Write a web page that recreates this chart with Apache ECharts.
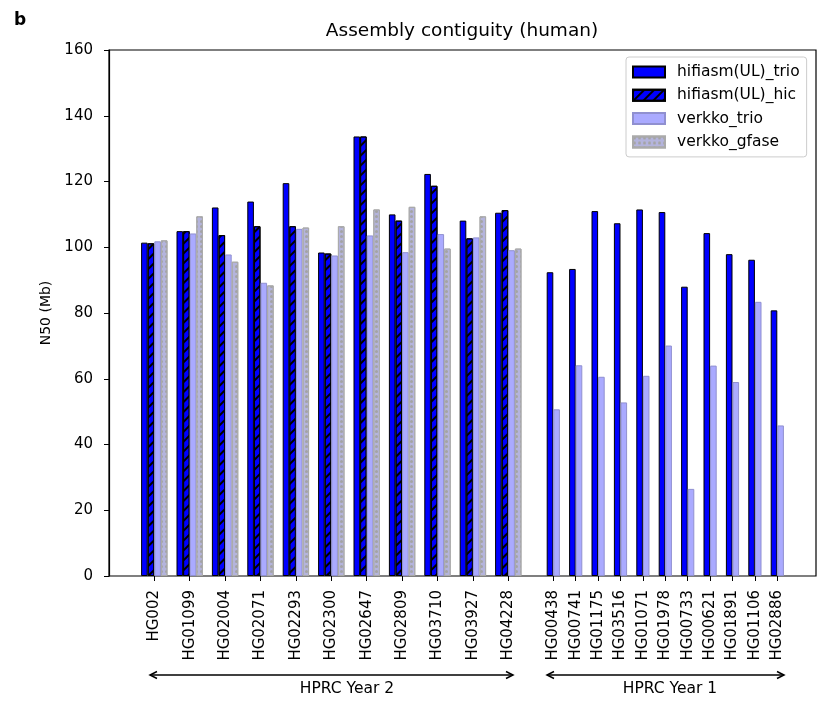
<!DOCTYPE html>
<html>
<head>
  <meta charset="utf-8">
  <title>Assembly contiguity (human)</title>
  <script src="https://cdn.jsdelivr.net/npm/echarts@6/dist/echarts.min.js"></script>
  <style>
    html, body { margin: 0; padding: 0; background: #fff; }
    #main { width: 830px; height: 712px; }
  </style>
</head>
<body>
  <div id="main"></div>
  <script>
    // samples, HPRC year 2 (four assemblers each)
    var year2Samples = ['HG002', 'HG01099', 'HG02004', 'HG02071', 'HG02293', 'HG02300',
                        'HG02647', 'HG02809', 'HG03710', 'HG03927', 'HG04228'];
    var y2HifiTrio   = [101.4, 104.9, 112.1, 113.9, 119.5, 98.4, 133.7, 110.0, 122.3, 108.1, 110.5];
    var y2HifiHic    = [101.2, 104.9, 103.7, 106.4, 106.4, 98.1, 133.7, 108.1, 118.7, 102.7, 111.3];
    var y2VerkkoTrio = [101.8, 104.2,  97.8,  89.2, 105.6, 97.5, 103.6,  98.5, 104.0, 103.0,  99.1];
    var y2VerkkoGfase= [102.1, 109.4,  95.6,  88.4, 106.0, 106.4, 111.5, 112.3,  99.6, 109.4,  99.6];

    // samples, HPRC year 1 (trio only)
    var year1Samples = ['HG00438', 'HG00741', 'HG01175', 'HG03516', 'HG01071', 'HG01978',
                        'HG00733', 'HG00621', 'HG01891', 'HG01106', 'HG02886'];
    var y1HifiTrio   = [92.4, 93.4, 111.0, 107.3, 111.5, 110.7, 88.0, 104.3, 97.9, 96.2, 80.8];
    var y1VerkkoTrio = [50.7, 64.1,  60.6,  52.8,  60.9,  70.1, 26.5,  64.0, 59.0, 83.4, 45.8];

    var yTicks = { min: 0, max: 160, step: 20 };

    var FONT = 'DejaVu Sans';

    // 样式
    var stTrio = { color: '#0000ff', borderColor: '#000', borderWidth: 1 };
    var stHic = {
      color: '#0000ff', borderColor: '#000', borderWidth: 1,
      decal: { symbol: 'rect', symbolSize: 1, dashArrayX: [1, 0], dashArrayY: [1.6, 5], rotation: -Math.PI / 4, color: '#000' }
    };
    var stVTrio = { color: '#aaaaff', borderColor: '#9090d0', borderWidth: 1 };
    var stGfase = {
      color: '#b4b4dc', borderColor: '#aaaaaa', borderWidth: 1,
      decal: { symbol: 'circle', symbolSize: 1, dashArrayX: [3, 1.2], dashArrayY: [3, 1.2], color: '#a4a4a4' }
    };

    var barW = 6.6;

    function catAxis(idx, cats) {
      return {
        type: 'category', gridIndex: idx, data: cats,
        axisLine: { show: false },
        axisTick: { show: true, alignWithLabel: true, length: 5, lineStyle: { color: '#000', width: 1 } },
        axisLabel: { interval: 0, rotate: 90, margin: 14, color: '#000', fontSize: 15, fontFamily: FONT }
      };
    }
    function hiddenY(idx) {
      return { type: 'value', gridIndex: idx, min: yTicks.min, max: yTicks.max, interval: yTicks.step, show: false };
    }

    var chart = echarts.init(document.getElementById('main'));
    var option = {
      animation: false,
      backgroundColor: '#fff',
      title: {
        text: 'Assembly contiguity (human)',
        left: 462, top: 22, padding: 0, textAlign: 'center',
        textStyle: { fontFamily: FONT, fontSize: 18.5, fontWeight: 'normal', color: '#000' }
      },
      legend: {
        orient: 'vertical', left: 626, top: 57,
        data: ['hifiasm(UL)_trio', 'hifiasm(UL)_hic', 'verkko_trio', 'verkko_gfase'],
        icon: 'rect',
        itemWidth: 32, itemHeight: 11, itemGap: 5.3,
        padding: [6, 7, 6, 6],
        borderColor: '#cccccc', borderWidth: 1, borderRadius: 3,
        backgroundColor: 'rgba(255,255,255,0.8)',
        textStyle: { fontFamily: FONT, fontSize: 15.5, color: '#000', lineHeight: 18, padding: [0, 0, 0, 7] }
      },
      grid: [
        // frame + y axis
        { left: 109, top: 50, width: 707, height: 526, show: true, borderColor: '#000', borderWidth: 1.2, backgroundColor: 'transparent' },
        { left: 136.6, top: 50, width: 389.4, height: 526 },
        { left: 542.1, top: 50, width: 246.4, height: 526 }
      ],
      xAxis: [
        { type: 'value', gridIndex: 0, show: false, min: 0, max: 1 },
        catAxis(1, year2Samples),
        catAxis(2, year1Samples)
      ],
      yAxis: [
        {
          type: 'value', gridIndex: 0, min: yTicks.min, max: yTicks.max, interval: yTicks.step,
          name: 'N50 (Mb)', nameLocation: 'middle', nameGap: 55, nameRotate: 90,
          nameTextStyle: { fontFamily: FONT, fontSize: 14, color: '#000' },
          axisLine: { show: true, lineStyle: { color: '#000', width: 1.2 } },
          axisTick: { show: true, length: 5, lineStyle: { color: '#000', width: 1 } },
          axisLabel: { color: '#000', fontSize: 15, fontFamily: FONT, margin: 16 },
          splitLine: { show: false }
        },
        hiddenY(1),
        hiddenY(2)
      ],
      series: [
        { name: 'hifiasm(UL)_trio', type: 'bar', xAxisIndex: 1, yAxisIndex: 1, data: y2HifiTrio, barWidth: barW, barGap: '0%', itemStyle: stTrio },
        { name: 'hifiasm(UL)_hic', type: 'bar', xAxisIndex: 1, yAxisIndex: 1, data: y2HifiHic, barWidth: barW, barGap: '0%', itemStyle: stHic },
        { name: 'verkko_trio', type: 'bar', xAxisIndex: 1, yAxisIndex: 1, data: y2VerkkoTrio, barWidth: barW, barGap: '0%', itemStyle: stVTrio },
        { name: 'verkko_gfase', type: 'bar', xAxisIndex: 1, yAxisIndex: 1, data: y2VerkkoGfase, barWidth: barW, barGap: '0%', itemStyle: stGfase },
        { name: 'hifiasm(UL)_trio', type: 'bar', xAxisIndex: 2, yAxisIndex: 2, data: y1HifiTrio, barWidth: barW, barGap: '0%', itemStyle: stTrio },
        { name: 'verkko_trio', type: 'bar', xAxisIndex: 2, yAxisIndex: 2, data: y1VerkkoTrio, barWidth: barW, barGap: '0%', itemStyle: stVTrio }
      ],
      graphic: [
        { type: 'text', left: 14, top: 12, style: { text: 'b', fontFamily: FONT, fontSize: 17, fontWeight: 'bold', fill: '#000' } },
        // HPRC Year 2 arrow
        { type: 'line', shape: { x1: 150, y1: 675, x2: 513, y2: 675 }, style: { stroke: '#000', lineWidth: 1.3 } },
        { type: 'polyline', shape: { points: [[157, 671.5], [150, 675], [157, 678.5]] }, style: { stroke: '#000', lineWidth: 1.5, fill: null } },
        { type: 'polyline', shape: { points: [[506, 671.5], [513, 675], [506, 678.5]] }, style: { stroke: '#000', lineWidth: 1.5, fill: null } },
        { type: 'text', x: 347, y: 689, style: { text: 'HPRC Year 2', align: 'center', verticalAlign: 'middle', fontFamily: FONT, fontSize: 15.5, fill: '#000' } },
        // HPRC Year 1 arrow
        { type: 'line', shape: { x1: 547, y1: 675, x2: 784, y2: 675 }, style: { stroke: '#000', lineWidth: 1.3 } },
        { type: 'polyline', shape: { points: [[554, 671.5], [547, 675], [554, 678.5]] }, style: { stroke: '#000', lineWidth: 1.5, fill: null } },
        { type: 'polyline', shape: { points: [[777, 671.5], [784, 675], [777, 678.5]] }, style: { stroke: '#000', lineWidth: 1.5, fill: null } },
        { type: 'text', x: 670, y: 689, style: { text: 'HPRC Year 1', align: 'center', verticalAlign: 'middle', fontFamily: FONT, fontSize: 15.5, fill: '#000' } }
      ]
    };
    chart.setOption(option);
  </script>
</body>
</html>
